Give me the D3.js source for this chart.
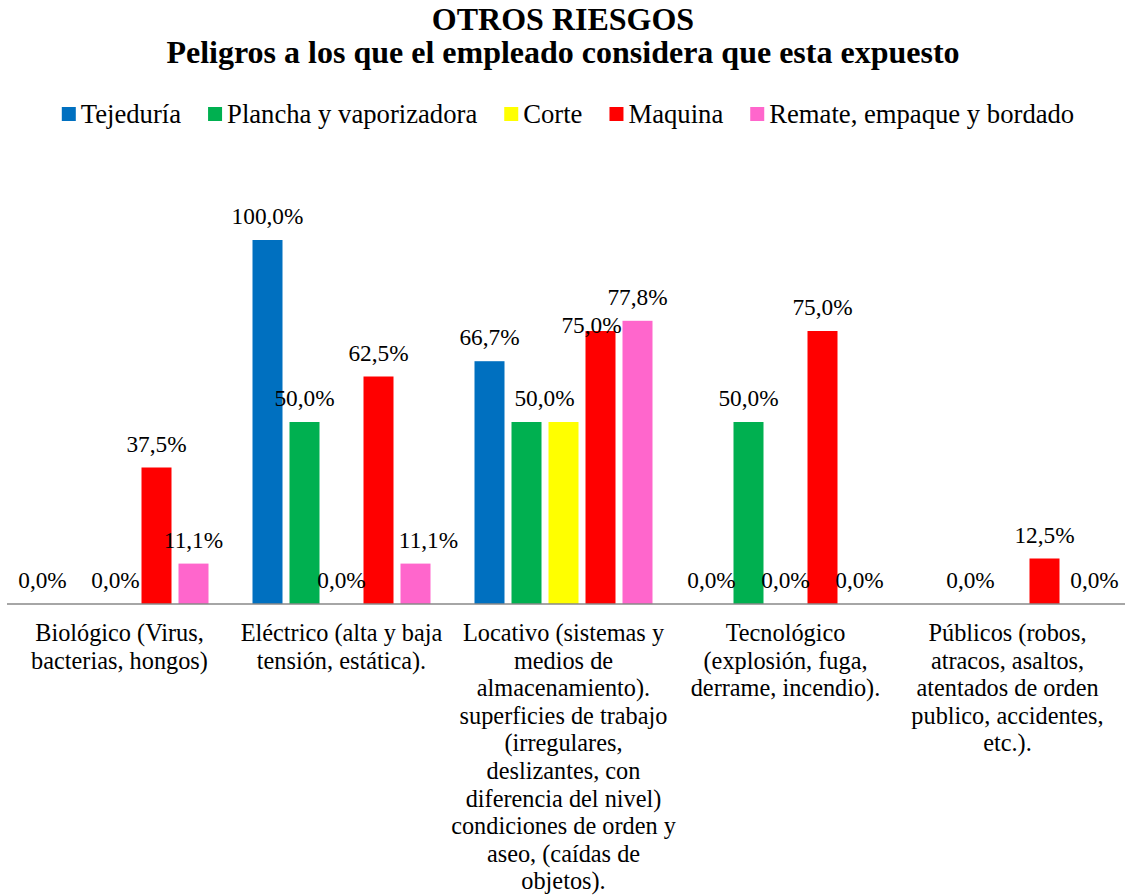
<!DOCTYPE html>
<meta charset="utf-8">
<title>Otros riesgos</title>
<style>
body { margin: 0; background: #fff; }
svg text { font-family: "Liberation Serif", "Times New Roman", serif; fill: #000; }
.title { font-size: 32px; font-weight: bold; }
.legend text { font-size: 26.67px; }
.value { font-size: 23.3px; }
.cat { font-size: 24.3px; }
</style>
<body>
<script src="https://d3js.org/d3.v7.min.js"></script>
<script>

// categories (wrapped tick labels)
var categories = ["Biológico", "Eléctrico", "Locativo", "Tecnológico", "Públicos"];
var categoryLines = [
  ["Biológico (Virus,", "bacterias, hongos)"],
  ["Eléctrico (alta y baja", "tensión, estática)."],
  ["Locativo (sistemas y", "medios de", "almacenamiento).", "superficies de trabajo", "(irregulares,", "deslizantes, con", "diferencia del nivel)", "condiciones de orden y", "aseo, (caídas de", "objetos)."],
  ["Tecnológico", "(explosión, fuga,", "derrame, incendio)."],
  ["Públicos (robos,", "atracos, asaltos,", "atentados de orden", "publico, accidentes,", "etc.)."]
];

var series = ["Tejeduría", "Plancha y vaporizadora", "Corte", "Maquina", "Remate, empaque y bordado"];
var colors = ["#0070C0", "#00B050", "#FFFF00", "#FF0000", "#FF66CC"];

// percentages per series, in category order
var tejeduria = [0, 100, 66.7, 0, 0];
var plancha   = [0, 50, 50, 50, 0];
var corte     = [0, 0, 50, 0, 0];
var maquina   = [37.5, 62.5, 75, 75, 12.5];
var remate    = [11.1, 11.1, 77.8, 0, 0];
var values = [tejeduria, plancha, corte, maquina, remate];

// which data labels are shown in the original
var labelled = [
  [1, 1, 1, 1, 0],
  [0, 1, 1, 1, 1],
  [1, 1, 0, 1, 0],
  [1, 1, 1, 1, 1],
  [1, 1, 1, 1, 1]
];

// nudges for labels that were moved in the original ("series-category")
var nudge = { "1-2": [18, 0], "3-2": [-9, 18], "4-1": [13, 0], "4-4": [13, 0], "0-0": [-3, 0], "2-0": [-4, 0] };

var W = 1125, H = 895;
var svg = d3.select("body").append("svg").attr("width", W).attr("height", H);

var x0 = d3.scaleBand().domain(categories).range([8.5, 1118.5]);
var x1 = d3.scaleBand().domain(series).range([18.5, 203.5]).paddingInner(7 / 37).paddingOuter(3.5 / 37);
var y = d3.scaleLinear().domain([0, 100]).range([604, 240]);

var fmt = function(v) { return v.toFixed(1).replace(".", ",") + "%"; };

// titles
svg.append("text").attr("class", "title").attr("x", 563).attr("y", 30)
  .attr("text-anchor", "middle").text("OTROS RIESGOS");
svg.append("text").attr("class", "title").attr("x", 563).attr("y", 63)
  .attr("text-anchor", "middle").text("Peligros a los que el empleado considera que esta expuesto");

// legend
var legend = svg.append("g").attr("class", "legend");
var items = legend.selectAll("g").data(series).enter().append("g");
items.append("rect").attr("width", 14).attr("height", 14).attr("y", 107)
  .attr("fill", function(d, i) { return colors[i]; });
items.append("text").attr("x", 19).attr("y", 123).text(function(d) { return d; });
var lx = 0, widths = [];
items.each(function() { widths.push(d3.select(this).select("text").node().getComputedTextLength()); });
var gap = 27;
var total = d3.sum(widths) + widths.length * 19 + (widths.length - 1) * gap;
lx = 568 - total / 2;
items.attr("transform", function(d, i) {
  var t = "translate(" + lx + ",0)";
  lx += 19 + widths[i] + gap;
  return t;
});

// bars
var groups = svg.selectAll("g.cat-group").data(categories).enter().append("g")
  .attr("class", "cat-group")
  .attr("transform", function(d) { return "translate(" + x0(d) + ",0)"; });

groups.each(function(c, ci) {
  var g = d3.select(this);
  series.forEach(function(s, si) {
    var v = values[si][ci];
    g.append("rect")
      .attr("x", x1(s)).attr("width", x1.bandwidth())
      .attr("y", y(v)).attr("height", y(0) - y(v))
      .attr("fill", colors[si]);
  });
});

// axis line
svg.append("line").attr("x1", 7).attr("x2", W).attr("y1", y(0)).attr("y2", y(0))
  .attr("stroke", "#898989").attr("stroke-width", 1.5);

// data labels
groups.each(function(c, ci) {
  var g = d3.select(this);
  series.forEach(function(s, si) {
    if (!labelled[si][ci]) return;
    var v = values[si][ci];
    var n = nudge[si + "-" + ci] || [0, 0];
    g.append("text").attr("class", "value")
      .attr("text-anchor", "middle")
      .attr("x", x1(s) + x1.bandwidth() / 2 + n[0])
      .attr("y", y(v) - 16 + n[1])
      .text(fmt(v));
  });
});

// category labels
groups.each(function(c, ci) {
  var t = d3.select(this).append("text").attr("class", "cat")
    .attr("text-anchor", "middle")
    .attr("x", x0.bandwidth() / 2).attr("y", 641);
  categoryLines[ci].forEach(function(line, li) {
    t.append("tspan").attr("x", x0.bandwidth() / 2).attr("dy", li === 0 ? 0 : 27.6).text(line);
  });
});

</script>
</body>
